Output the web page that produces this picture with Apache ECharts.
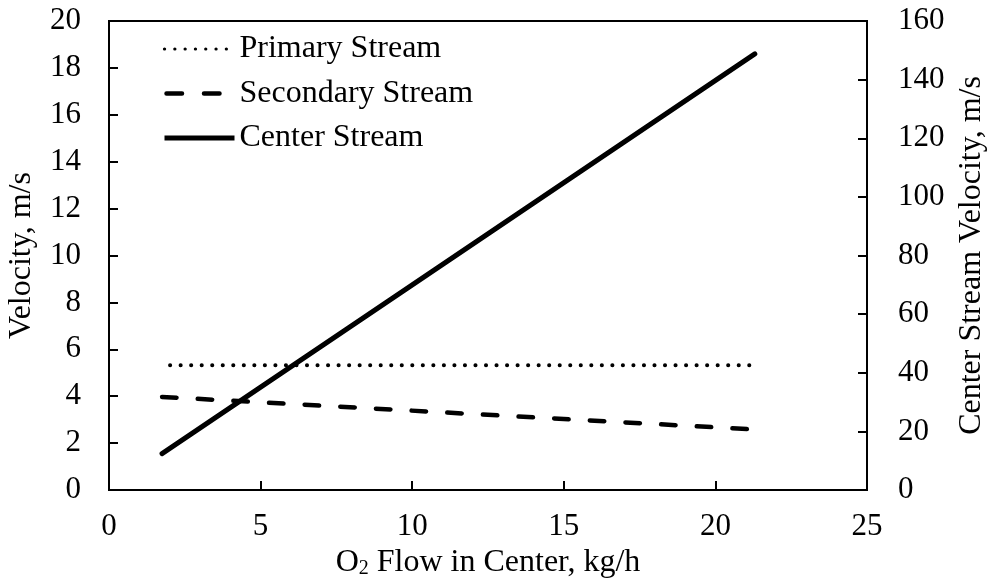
<!DOCTYPE html>
<html><head><meta charset="utf-8">
<script src="https://cdn.jsdelivr.net/npm/echarts@6/dist/echarts.min.js"></script>
<style>html,body{margin:0;padding:0;background:#fff}#c{width:990px;height:579px}</style>
</head><body><div id="c"></div>
<script>
const seriesNames = ['Primary Stream', 'Secondary Stream', 'Center Stream'];
const flowX = [1.75, 21.3];
const primaryVel = [5.32, 5.32];
const secondaryVel = [3.97, 2.58];
const centerVel = [12.4, 148.8];
const xTicks = [0, 5, 10, 15, 20, 25];
const leftTicks = [0, 2, 4, 6, 8, 10, 12, 14, 16, 18, 20];
const rightTicks = [0, 20, 40, 60, 80, 100, 120, 140, 160];

const font = 'Liberation Serif';
const pair = (xs, ys) => xs.map((x, i) => [x, ys[i]]);
const chart = echarts.init(document.getElementById('c'));
const axisCommon = {
  axisLine: {show: true, lineStyle: {color: '#000', width: 2}},
  axisTick: {show: true, inside: true, length: 9, lineStyle: {color: '#000', width: 2}},
  splitLine: {show: false},
  axisLabel: {color: '#000', fontFamily: font, fontSize: 31},
  nameTextStyle: {color: '#000', fontFamily: font, fontSize: 32}
};
const dotStyle = {color: '#000', width: 4, type: [0.1, 10.43], dashOffset: 2.53, cap: 'round'};
const dashStyle = {color: '#000', width: 4.5, type: [14.5, 21.2], cap: 'round'};
const solidStyle = {color: '#000', width: 5, type: 'solid', cap: 'round'};
chart.setOption({
  animation: false,
  backgroundColor: '#fff',
  grid: {left: 109, right: 123, top: 21, bottom: 89, show: true, borderColor: '#000', borderWidth: 2,
         containLabel: false, outerBoundsMode: 'none'},
  legend: {
    orient: 'vertical', left: 162, top: 33, padding: 0, itemWidth: 70, itemHeight: 14, itemGap: 12.5,
    itemStyle: {opacity: 0},
    textStyle: {color: '#000', fontFamily: font, fontSize: 32},
    data: [
      {name: seriesNames[0], lineStyle: {color: '#000', width: 3.2, type: [0.1, 10.2], dashOffset: 0, cap: 'round'}},
      {name: seriesNames[1], lineStyle: {color: '#000', width: 4.5, type: [15.5, 22], dashOffset: -2, cap: 'round'}},
      {name: seriesNames[2], lineStyle: {color: '#000', width: 5, type: 'solid', cap: 'butt'}}
    ]
  },
  xAxis: Object.assign({}, axisCommon, {
    type: 'value', min: xTicks[0], max: xTicks[xTicks.length - 1], interval: 5,
    axisLabel: Object.assign({}, axisCommon.axisLabel, {margin: 21}),
    name: '{a|O}{s|2}{a| Flow in Center, kg/h}', nameLocation: 'middle', nameGap: 44,
    nameTextStyle: {rich: {
      a: {fontFamily: font, fontSize: 32, color: '#000', lineHeight: 32},
      s: {fontFamily: font, fontSize: 20, color: '#000', verticalAlign: 'bottom', lineHeight: 20}
    }}
  }),
  yAxis: [
    Object.assign({}, axisCommon, {
      type: 'value', min: leftTicks[0], max: leftTicks[leftTicks.length - 1], interval: 2,
      axisLabel: Object.assign({}, axisCommon.axisLabel, {margin: 28}),
      name: 'Velocity, m/s', nameLocation: 'middle', nameGap: 71, nameRotate: 90
    }),
    Object.assign({}, axisCommon, {
      type: 'value', position: 'right', min: rightTicks[0], max: rightTicks[rightTicks.length - 1], interval: 20,
      axisLabel: Object.assign({}, axisCommon.axisLabel, {margin: 31}),
      name: 'Center Stream Velocity, m/s', nameLocation: 'middle', nameGap: 88, nameRotate: 90
    })
  ],
  series: [
    {name: seriesNames[0], type: 'line', yAxisIndex: 0, data: pair(flowX, primaryVel), symbol: 'none',
     lineStyle: dotStyle, itemStyle: {color: '#000'}},
    {name: seriesNames[1], type: 'line', yAxisIndex: 0, data: pair(flowX, secondaryVel), symbol: 'none',
     lineStyle: dashStyle, itemStyle: {color: '#000'}},
    {name: seriesNames[2], type: 'line', yAxisIndex: 1, data: pair(flowX, centerVel), symbol: 'none',
     lineStyle: solidStyle, itemStyle: {color: '#000'}}
  ]
});
</script></body></html>
